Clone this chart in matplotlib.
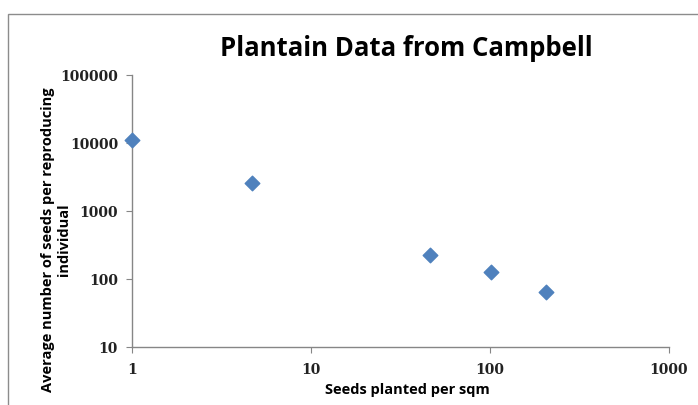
import matplotlib.pyplot as plt
from matplotlib.patches import Rectangle
from matplotlib.ticker import FixedLocator, NullLocator

# data
seeds_planted = [1, 4.7, 46, 101, 205]
seeds_per_individual = [11000, 2600, 225, 128, 65]
x_ticks = [1, 10, 100, 1000]
y_ticks = [10, 100, 1000, 10000, 100000]

fig = plt.figure(figsize=(6.98, 4.06), dpi=100)
fig.patches.append(Rectangle((8 / 698, -0.1), 1.0, 1 - 15 / 406 + 0.1,
                             transform=fig.transFigure, fill=False,
                             edgecolor='#8c8c8c', linewidth=1.0))

ax = fig.add_axes([132 / 698, 1 - 348 / 406, (669 - 132) / 698, (348 - 76) / 406])
ax.set_xscale('log')
ax.set_yscale('log')
ax.scatter(seeds_planted, seeds_per_individual, marker='D', s=55,
           color='#4F81BD', edgecolors='#4F81BD', zorder=3, clip_on=False)
ax.set_xlim(1, 1000)
ax.set_ylim(10, 100000)

ax.xaxis.set_major_locator(FixedLocator(x_ticks))
ax.yaxis.set_major_locator(FixedLocator(y_ticks))
ax.xaxis.set_minor_locator(NullLocator())
ax.yaxis.set_minor_locator(NullLocator())
ax.set_xticklabels([str(v) for v in x_ticks])
ax.set_yticklabels([str(v) for v in y_ticks])

for s in ['top', 'right']:
    ax.spines[s].set_visible(False)
for s in ['left', 'bottom']:
    ax.spines[s].set_color('#868686')
    ax.spines[s].set_linewidth(1.0)

ax.tick_params(axis='both', direction='out', length=4, color='#868686',
               labelsize=10)
ax.tick_params(axis='x', pad=7)
ax.tick_params(axis='y', pad=6)
for lab in ax.get_xticklabels() + ax.get_yticklabels():
    lab.set_family('DejaVu Serif')
    lab.set_fontweight('bold')
    lab.set_color('#222222')

fig.text(407 / 698, 1 - 390 / 406, 'Seeds planted per sqm', family='Open Sans',
         fontsize=10.5, fontweight='bold', ha='center', va='center')
fig.text(56 / 698, 1 - 240 / 406,
         'Average number of seeds per reproducing\nindividual',
         family='Open Sans', fontsize=10.5, fontweight='bold', rotation=90,
         linespacing=1.15, ha='center', va='center', multialignment='center')

fig.text(406 / 698, 1 - 48 / 406, 'Plantain Data from Campbell',
         family='Open Sans', fontsize=18.5, fontweight='bold',
         ha='center', va='center')

fig.savefig('out.png', dpi=100)
